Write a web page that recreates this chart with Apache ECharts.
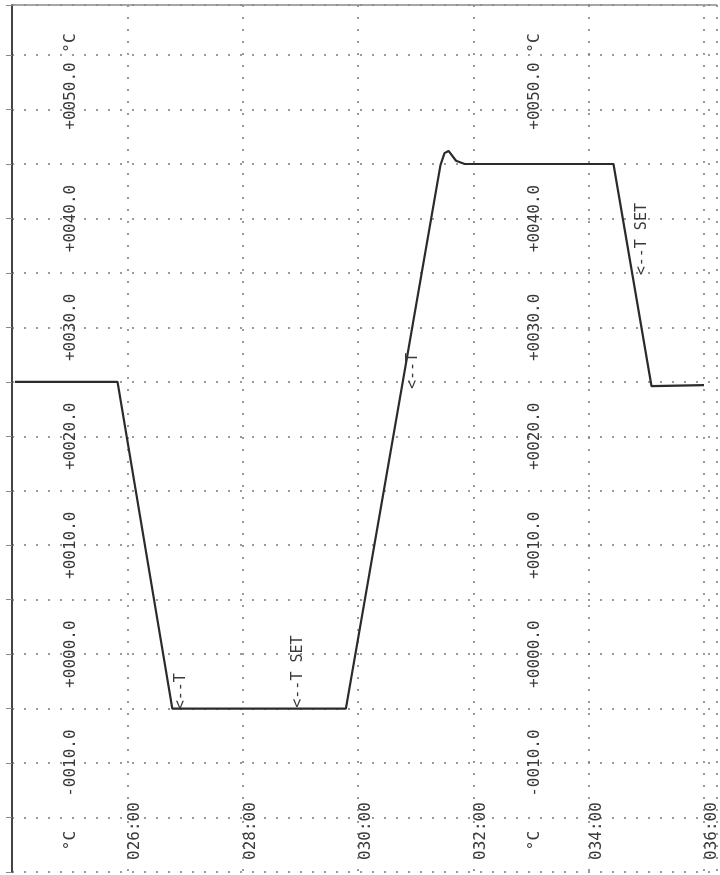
<!DOCTYPE html>
<html>
<head>
<meta charset="utf-8">
<script src="https://cdn.jsdelivr.net/npm/echarts@6/dist/echarts.min.js"></script>
<style>
html, body { margin: 0; padding: 0; background: #fff; }
#chart { width: 720px; height: 875px; }
</style>
</head>
<body>
<div id="chart"></div>
<script>
// recorder trace: time in minutes, temperature in °C
const minutes = [24.05, 25.83, 26.78, 29.79, 31.43, 31.50, 31.57, 31.70, 31.85, 34.43, 35.09, 36.0]
const temps = [25, 25, -5, -5, 44.9, 46.0, 46.2, 45.3, 45.0, 45.0, 24.6, 24.7]

// scale labels printed by the recorder
const tempLabelValues = [-15, -10, 0, 10, 20, 30, 40, 50]
const tempLabelTexts = ['°C', '-0010.0', '+0000.0', '+0010.0', '+0020.0', '+0030.0', '+0040.0', '+0050.0 °C']
const timeLabelValues = [26, 28, 30, 32, 34, 36]
const timeLabelTexts = ['026:00', '028:00', '030:00', '032:00', '034:00', '036:00']

// notes printed beside the trace
const noteMinutes = [26.93, 28.96, 30.96, 34.93]
const noteTemps = [-3.4, -1.6, 26.0, 38.1]
const noteTexts = ['<--T', '<--T SET', '<--T', '<--T SET']

const FONT = 'DejaVu Sans Mono'
const INK = '#3a3a3a'

function tempLabel (v) {
  const i = tempLabelValues.findIndex(t => Math.abs(t - v) < 1e-6)
  if (i < 0) return ''
  if (tempLabelValues[i] === 50) return '{top|' + tempLabelTexts[i] + '}'
  if (tempLabelValues[i] === -15) return '{unit|' + tempLabelTexts[i] + '}'
  return '{n|' + tempLabelTexts[i] + '}'
}

function timeLabel (v) {
  const i = timeLabelValues.findIndex(t => Math.abs(t - v) < 1e-6)
  return i < 0 ? '' : timeLabelTexts[i]
}

const labelRich = {
  n: { fontFamily: FONT, fontSize: 16, color: INK },
  top: { fontFamily: FONT, fontSize: 16, color: INK, padding: [0, 0, 0, 56] },
  unit: { fontFamily: FONT, fontSize: 16, color: INK, padding: [0, 46, 0, 0] }
}

const dotted = { color: '#7a7a7a', type: [2, 10], width: 1.5 }

function tempAxis (offset, margin, main) {
  return {
    type: 'value',
    min: -20,
    max: 59.6,
    interval: 5,
    position: 'left',
    offset: offset,
    axisLine: { show: main, onZero: false, lineStyle: { color: '#444', width: 2 } },
    axisTick: { show: main, length: 6, lineStyle: { color: '#888' } },
    splitLine: { show: main, lineStyle: dotted },
    axisLabel: {
      inside: true,
      rotate: 90,
      margin: margin,
      align: 'center',
      verticalAlign: 'top',
      formatter: tempLabel,
      rich: labelRich
    }
  }
}

const chart = echarts.init(document.getElementById('chart'))
chart.setOption({
  animation: false,
  backgroundColor: '#fff',
  grid: { left: 12, right: 0, top: 5, bottom: 0 },
  xAxis: [
    {
      type: 'value',
      min: 24,
      max: 36.22,
      interval: 2,
      position: 'bottom',
      axisLine: { show: false, onZero: false },
      axisTick: { show: false },
      splitLine: { show: true, lineStyle: dotted },
      axisLabel: {
        inside: true,
        rotate: 90,
        margin: 12,
        align: 'left',
        verticalAlign: 'top',
        fontFamily: FONT,
        fontSize: 16,
        color: INK,
        formatter: timeLabel
      }
    },
    {
      type: 'value',
      min: 24,
      max: 36.22,
      position: 'top',
      axisLine: { show: true, onZero: false, lineStyle: { color: '#8a8a8a', width: 1.5 } },
      axisTick: { show: false },
      axisLabel: { show: false },
      splitLine: { show: false }
    }
  ],
  yAxis: [
    tempAxis(0, 51, true),
    tempAxis(-465, 50, false)
  ],
  series: [
    {
      type: 'line',
      xAxisIndex: 0,
      yAxisIndex: 0,
      data: minutes.map((m, i) => [m, temps[i]]),
      showSymbol: false,
      lineStyle: { color: '#2b2b2b', width: 2.2 },
      markPoint: {
        symbol: 'circle',
        symbolSize: 0,
        label: {
          show: true,
          position: 'inside',
          rotate: 90,
          fontFamily: FONT,
          fontSize: 15,
          color: INK,
          formatter: p => p.name
        },
        data: noteTexts.map((t, i) => ({ name: t, coord: [noteMinutes[i], noteTemps[i]] }))
      }
    }
  ]
})
</script>
</body>
</html>
